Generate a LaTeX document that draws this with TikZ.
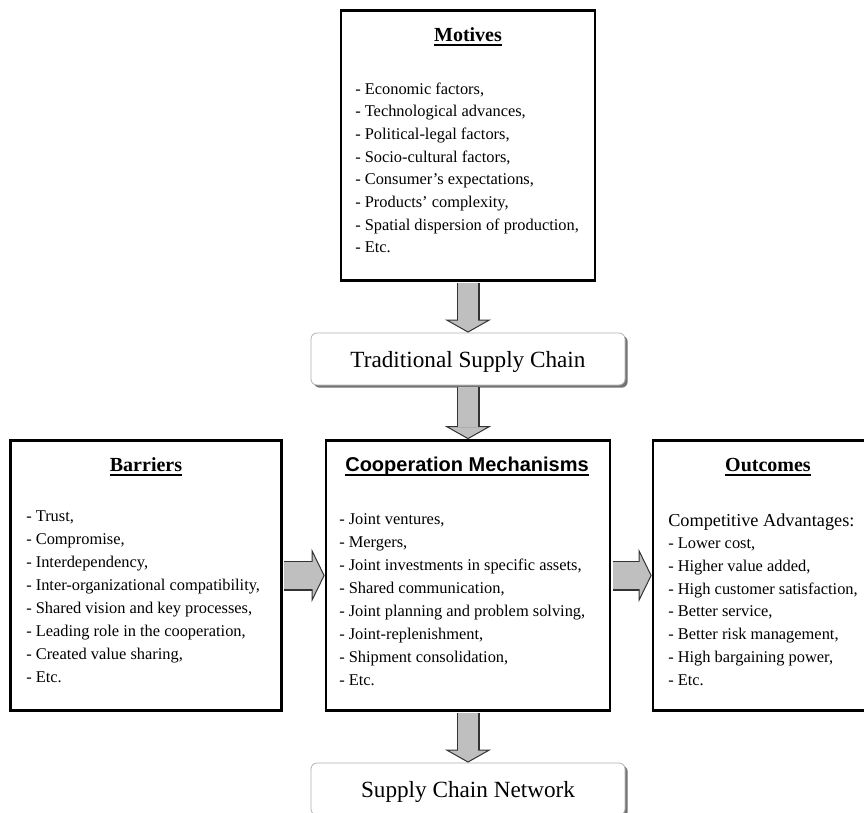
\documentclass[tikz,border=0pt]{standalone}
\usepackage{fontspec}
\setmainfont{Liberation Serif}
\setsansfont{Liberation Sans}
\usetikzlibrary{arrows.meta,shadows}

\definecolor{arrowfill}{gray}{0.75}
\definecolor{arrowline}{gray}{0.2}

% heading with a heavy underline
\newcommand{\titleline}[1]{\setbox0=\hbox{#1}\rlap{\rule[-3.6pt]{\wd0}{1.5pt}}\box0}

\tikzset{
  panel/.style={draw=black, line width=2pt, fill=white, inner sep=0pt},
  stage/.style={draw=gray!60, line width=0.6pt, rounded corners=4.5pt, fill=white,
    minimum width=235.5pt, minimum height=39pt, text depth=0pt,
    font=\fontsize{17.4}{20}\selectfont,
    drop shadow={shadow xshift=2pt, shadow yshift=-2pt, fill=black!55, opacity=1}},
  heading/.style={anchor=base, inner sep=0pt, font=\fontsize{15}{18}\selectfont\bfseries},
  items/.style={anchor=north west, align=left, inner sep=0pt, font=\fontsize{12.3}{17.25}\selectfont},
  fatarrow/.style n args={3}{draw=arrowline, line width=#1, shorten <=1pt,
    -{Triangle[length=9.75pt, width=#3, line width=0.75pt, fill=arrowfill]},
    postaction={draw=arrowfill, line width=#2, -, shorten >=9pt}},
  vfat/.style={fatarrow={17.25pt}{15pt}{34.5pt}},
  hfat/.style={fatarrow={22.5pt}{20pt}{39.75pt}}
}

\begin{document}
\begin{tikzpicture}[x=0.75pt, y=-0.75pt]
\clip (0,0) rectangle (864,813);
\fill[white] (0,0) rectangle (864,813);

% boxes
\node[panel, minimum width=190.5pt, minimum height=202.5pt] (motives) at (468,145.5) {};
\node[stage] (trad) at (468,359) {Traditional Supply Chain};
\node[panel, minimum width=203pt, minimum height=202.5pt] (barriers) at (146,575.5) {};
\node[panel, minimum width=213pt, minimum height=202.5pt] (coop) at (468,575.5) {};
\node[panel, minimum width=170.25pt, minimum height=202.5pt] (outcomes) at (766.5,575.5) {};
\node[stage] (network) at (468,789) {Supply Chain Network};

% texts
\node[heading] (motivesTitle) at (468,41.5) {\titleline{Motives}};
\node[items, font=\fontsize{12.3}{17}\selectfont] (motivesList) at (355,82.5) {- Economic factors,\\
- Technological advances,\\
- Political-legal factors,\\
- Socio-cultural factors,\\
- Consumer’s expectations,\\
- Products’ complexity,\\
- Spatial dispersion of production,\\
- Etc.};

\node[heading] (barriersTitle) at (146,471.5) {\titleline{Barriers}};
\node[items] (barriersList) at (26,510) {- Trust,\\
- Compromise,\\
- Interdependency,\\
- Inter-organizational compatibility,\\
- Shared vision and key processes,\\
- Leading role in the cooperation,\\
- Created value sharing,\\
- Etc.};

\node[heading, font=\fontsize{15}{18}\sffamily\bfseries] (coopTitle) at (467,471.5) {\titleline{Cooperation Mechanisms}};
\node[items] (coopList) at (339,513.5) {- Joint ventures,\\
- Mergers,\\
- Joint investments in specific assets,\\
- Shared communication,\\
- Joint planning and problem solving,\\
- Joint-replenishment,\\
- Shipment consolidation,\\
- Etc.};

\node[heading] (outcomesTitle) at (768,471.5) {\titleline{Outcomes}};
\node[anchor=base west, inner sep=0pt, font=\fontsize{13.7}{16}\selectfont] (advantages) at (668,526.7) {Competitive Advantages:};
\node[items, font=\fontsize{12.3}{17.1}\selectfont] (outcomesList) at (668,537.5) {- Lower cost,\\
- Higher value added,\\
- High customer satisfaction,\\
- Better service,\\
- Better risk management,\\
- High bargaining power,\\
- Etc.};

% arrows
\draw[vfat] (motives.south) -- (trad.north);
\draw[vfat] (trad.south) -- (coop.north);
\draw[vfat] (coop.south) -- (network.north);
\draw[hfat] (barriers.east) -- (coop.west);
\draw[hfat] (coop.east) -- (outcomes.west);
\end{tikzpicture}
\end{document}
